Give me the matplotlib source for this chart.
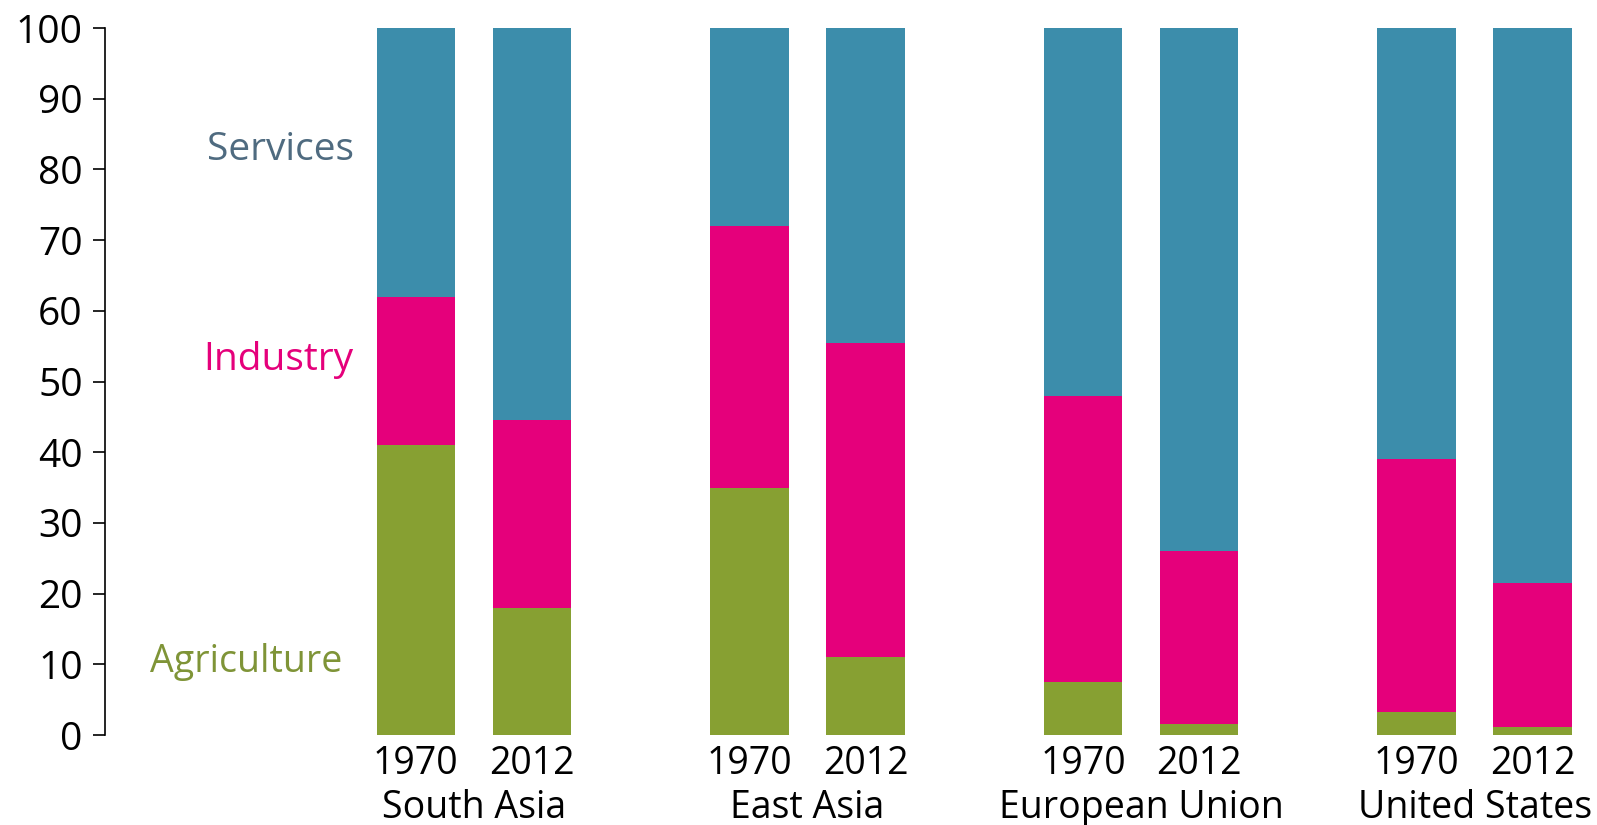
import numpy as np
import matplotlib
matplotlib.use('Agg')
import matplotlib.pyplot as plt
from matplotlib import transforms

plt.rcParams['font.family'] = ['Open Sans', 'DejaVu Sans']

regions = ['South Asia', 'East Asia', 'European Union', 'United States']
years = ['1970', '2012']
# share of GDP, per cent, (1970, 2012) per region
agriculture = [[41, 18], [35, 11], [7.5, 1.5], [3.3, 1.2]]
industry = [[62, 44.5], [72, 55.5], [48, 26], [39, 21.5]]  # cumulative top of industry
services_top = 100

c_serv = '#3c8dab'
c_ind = '#e5007b'
c_agr = '#87a032'

fig = plt.figure(figsize=(15.97, 8.25), dpi=100)
ax = fig.add_axes([0.0657, 0.109, 0.9343, 0.857])

width = 0.235
offset = 0.174
xticks, xlabels = [], []
for i, reg in enumerate(regions):
    for j, yr in enumerate(years):
        x = i + (offset if j else -offset)
        agr = agriculture[i][j]
        ind = industry[i][j] - agr
        serv = services_top - industry[i][j]
        ax.bar(x, agr, width, color=c_agr)
        ax.bar(x, ind, width, bottom=agr, color=c_ind)
        ax.bar(x, serv, width, bottom=agr + ind, color=c_serv)
        xticks.append(x)
        xlabels.append(yr)

ax.set_xlim(-1.106, 3.367)
ax.set_ylim(0, 100)
ax.set_yticks(range(0, 101, 10))
ax.set_xticks(xticks)
ax.set_xticklabels(xlabels)
ax.tick_params(axis='x', length=0, pad=7, labelsize=27)
ax.tick_params(axis='y', length=9, width=1.2, labelsize=28, pad=7)

for s in ['top', 'right', 'bottom']:
    ax.spines[s].set_visible(False)
ax.spines['left'].set_bounds(0, 100)
ax.spines['left'].set_linewidth(1.2)

trans = transforms.blended_transform_factory(ax.transData, ax.transAxes)
for i, reg in enumerate(regions):
    ax.text(i, -0.103, reg, transform=trans, ha='center', va='center', fontsize=27)

ax.text(-0.36, 82.7, 'Services', ha='right', va='center', fontsize=28, color='#4f6b80')
ax.text(-0.36, 53, 'Industry', ha='right', va='center', fontsize=28, color=c_ind)
ax.text(-0.393, 10.4, 'Agriculture', ha='right', va='center', fontsize=27, color='#7f9437')

plt.savefig('out.png', dpi=100)
